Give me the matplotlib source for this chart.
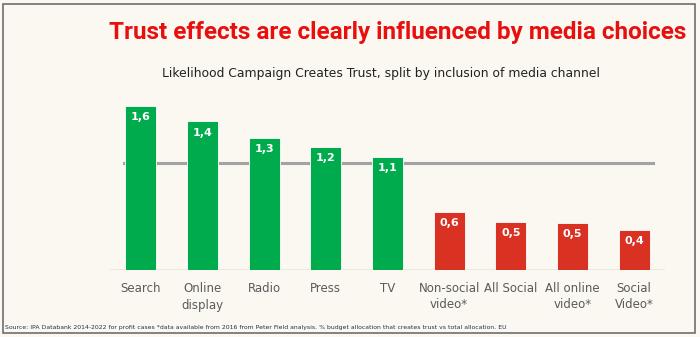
import matplotlib.pyplot as plt
from matplotlib.patches import Rectangle

channels = ["Search", "Online\ndisplay", "Radio", "Press", "TV",
            "Non-social\nvideo*", "All Social", "All online\nvideo*", "Social\nVideo*"]
trust = [1.60, 1.45, 1.29, 1.20, 1.10, 0.57, 0.47, 0.46, 0.39]
labels = ["1,6", "1,4", "1,3", "1,2", "1,1", "0,6", "0,5", "0,5", "0,4"]
positive = [True, True, True, True, True, False, False, False, False]
average = 1.04

GREEN = "#00ab4e"
RED = "#da3222"
BG = "#faf8f1"


def main():
    fig = plt.figure(figsize=(7, 3.37), dpi=100, facecolor=BG)
    W, H = 700, 337
    ax = fig.add_axes([110 / W, (H - 270) / H, 555 / W, (270 - 95.75) / H])
    ax.set_facecolor(BG)

    x = range(len(trust))
    colors = [GREEN if p else RED for p in positive]
    ax.bar(x, trust, width=0.5, color=colors, edgecolor="white", linewidth=0.6, zorder=3)
    ax.axhline(average, xmin=0.025, xmax=0.978, color="#a3a3a3", linewidth=2.2, zorder=2)
    ax.axhline(0, color="#ebe8e0", linewidth=1.5, zorder=1)

    for i, (v, lab) in enumerate(zip(trust, labels)):
        ax.text(i, v - 0.06, lab, ha="center", va="top", color="white",
                fontsize=8, fontweight="bold", zorder=4)

    ax.set_xlim(-0.5, 8.5)
    ax.set_ylim(0, 1.7)
    ax.set_yticks([])
    ax.set_xticks(list(x))
    ax.set_xticklabels(channels, fontsize=8.5, color="#5a5a5a", linespacing=1.3)
    ax.tick_params(axis="x", length=0, pad=9)
    for s in ax.spines.values():
        s.set_visible(False)

    fig.text(686 / W, 1 - 33 / H, "Trust effects are clearly influenced by media choices",
             ha="right", va="center", color="#e8100f", fontsize=17.5,
             fontweight="bold", family="Roboto")
    fig.text(381 / W, 1 - 73 / H, "Likelihood Campaign Creates Trust, split by inclusion of media channel",
             ha="center", va="center", color="#222222", fontsize=8.9)
    fig.text(5 / W, 1 - 327 / H,
             "Source: IPA Databank 2014-2022 for profit cases *data available from 2016 from Peter Field analysis. "
             "% budget allocation that creates trust vs total allocation. EU",
             ha="left", va="center", color="#1f3050", fontsize=4.4)

    fig.patches.append(Rectangle((3 / W, 4 / H), 692 / W, 329 / H, transform=fig.transFigure,
                                 fill=False, edgecolor="#6f6f6f", linewidth=1.2))

    fig.savefig("out.png", dpi=100, facecolor=BG)


if __name__ == "__main__":
    main()
